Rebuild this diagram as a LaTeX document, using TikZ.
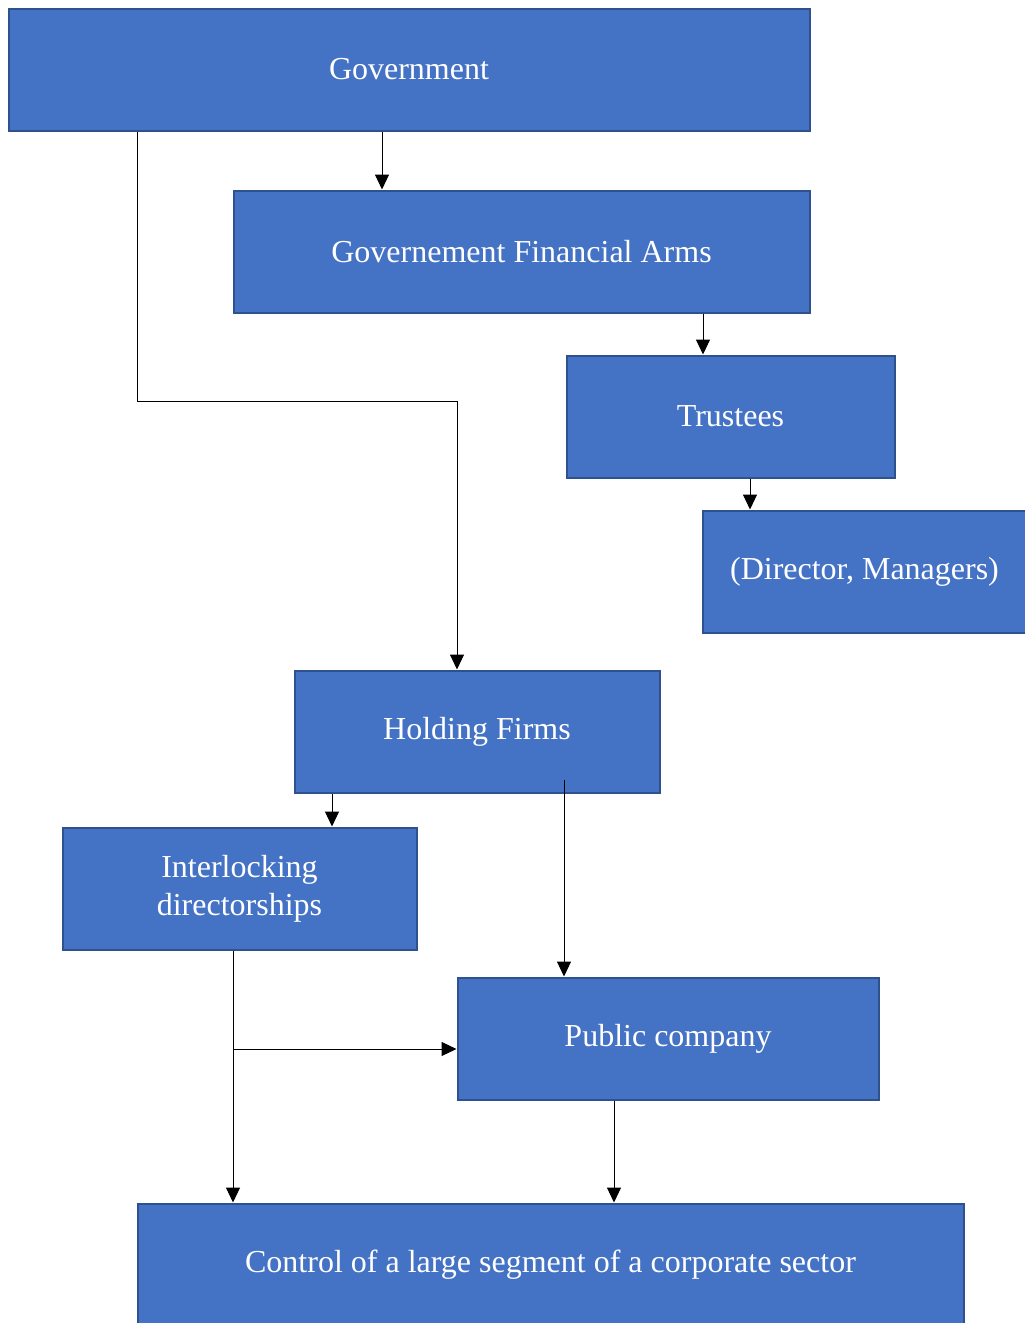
\documentclass[tikz,border=0pt]{standalone}
\usepackage{fontspec}
\setmainfont{Liberation Serif}
\usetikzlibrary{arrows.meta,calc}
\definecolor{boxfill}{HTML}{4472C4}
\definecolor{boxline}{HTML}{2F528F}
\begin{document}
\begin{tikzpicture}[x=1pt,y=-1pt,
  box/.style={draw=boxline, fill=boxfill, line width=2pt, text=white,
    font=\fontsize{32}{38}\selectfont, align=center, inner sep=0pt,
    minimum height=122pt},
  arr/.style={-{Triangle[length=15pt,width=14pt]}, line width=1pt, black}]
\clip (0,0) rectangle (1025,1323);
\fill[white] (0,0) rectangle (1025,1323);

% boxes
\node[box, minimum width=801pt] (gov)   at (409,69.5)    {Government};
\node[box, minimum width=576pt] (gfa)   at (521.5,251.5) {Governement Financial Arms};
\node[box, minimum width=328pt] (tru)   at (730.5,416.5) {Trustees};
\node[box, minimum width=324pt] (dir)   at (864.5,571.5) {(Director, Managers)};
\node[box, minimum width=365pt] (hold)  at (477,731.5)   {Holding Firms};
\node[box, minimum width=354pt] (inter) at (239.5,888.5) {Interlocking\\directorships};
\node[box, minimum width=421pt] (pub)   at (668,1038.5)  {Public company};
\node[box, minimum width=826pt] (ctrl)  at (550.5,1264.5){Control of a large segment of a corporate sector};

% x positions of the vertical connectors
\coordinate (xa) at (382,0);
\coordinate (xb) at (137,0);
\coordinate (xc) at (457,401);
\coordinate (xd) at (703,0);
\coordinate (xe) at (750,0);
\coordinate (xf) at (332,0);
\coordinate (xg) at (564,780);
\coordinate (xh) at (233,1049);
\coordinate (xi) at (614,0);

% connectors
\draw[arr] (gov.south -| xa) -- (gfa.north -| xa);
\draw[arr] (gov.south -| xb) |- (xc) -- (hold.north -| xc);
\draw[arr] (gfa.south -| xd) -- (tru.north -| xd);
\draw[arr] (tru.south -| xe) -- (dir.north -| xe);
\draw[arr] (hold.south -| xf) -- (inter.north -| xf);
\draw[arr] (xg) -- (pub.north -| xg);
\draw[arr] (inter.south -| xh) -- (ctrl.north -| xh);
\draw[arr] (xh) -- (pub.west |- xh);
\draw[arr] (pub.south -| xi) -- (ctrl.north -| xi);
\end{tikzpicture}
\end{document}
